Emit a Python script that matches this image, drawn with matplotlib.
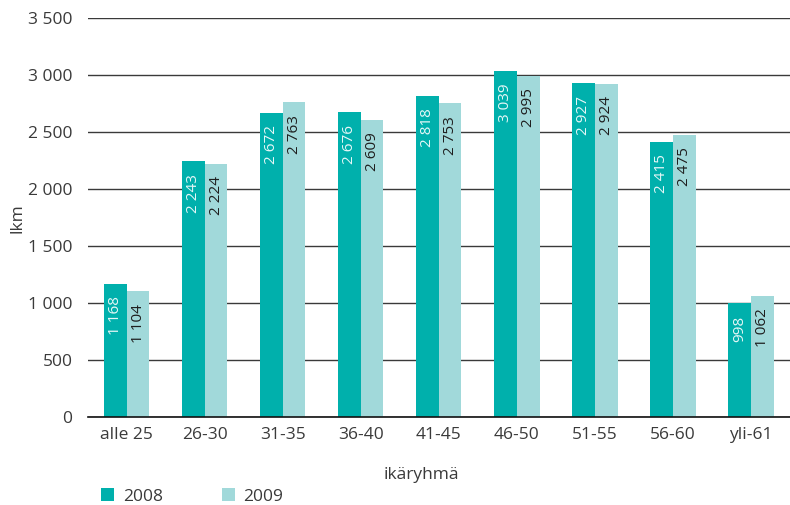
import numpy as np
import matplotlib
matplotlib.use("Agg")
import matplotlib.pyplot as plt
from matplotlib.patches import Patch

plt.rcParams['font.family'] = ['Open Sans', 'DejaVu Sans']

# Data
categories = ['alle 25', '26-30', '31-35', '36-40', '41-45', '46-50', '51-55', '56-60', 'yli-61']
values_2008 = [1168, 2243, 2672, 2676, 2818, 3039, 2927, 2415, 998]
values_2009 = [1104, 2224, 2763, 2609, 2753, 2995, 2924, 2475, 1062]
series_names = ['2008', '2009']
yticks = [0, 500, 1000, 1500, 2000, 2500, 3000, 3500]

COL_2008 = '#00b0ac'
COL_2009 = '#a1d9da'
TEXT = '#3a3a3a'


def fmt(v):
    return f"{v:,}".replace(',', ' ')


fig = plt.figure(figsize=(7.9, 5.05), dpi=100)
ax = fig.add_axes([0.111, 0.174, 0.889, 0.79])

x = np.arange(len(categories))
w = 0.29
bars1 = ax.bar(x - w / 2, values_2008, w, color=COL_2008, zorder=3)
bars2 = ax.bar(x + w / 2, values_2009, w, color=COL_2009, zorder=3)

# value labels inside bars, rotated
for bars, vals, col in [(bars1, values_2008, '#e6f7f7'), (bars2, values_2009, '#1e1e1e')]:
    for b, v in zip(bars, vals):
        ax.text(b.get_x() + b.get_width() / 2, v - 110, fmt(v), rotation=90,
                ha='center', va='top', fontsize=11, color=col, zorder=4)

ax.set_xlim(-0.5, len(categories) - 0.5)
ax.set_ylim(0, 3500)
ax.set_yticks(yticks)
ax.set_yticklabels([fmt(t) for t in yticks])
ax.set_xticks(x)
ax.set_xticklabels(categories)
ax.tick_params(axis='both', length=0, labelsize=12.5, colors=TEXT)
ax.tick_params(axis='x', pad=7)
ax.tick_params(axis='y', pad=11)

ax.yaxis.grid(True, color='#3a3a3a', linewidth=1.0, zorder=0)
ax.set_axisbelow(True)
for s in ['left', 'right', 'top']:
    ax.spines[s].set_visible(False)
ax.spines['bottom'].set_color('#111111')
ax.spines['bottom'].set_linewidth(1.2)
ax.spines['bottom'].set_zorder(5)

ax.set_ylabel('lkm', fontsize=12.5, color=TEXT, labelpad=2)
ax.set_xlabel('ikäryhmä', fontsize=12.5, color=TEXT, labelpad=16)
ax.xaxis.set_label_coords(0.475, -0.125)

handles = [Patch(facecolor=COL_2008, label=series_names[0]),
           Patch(facecolor=COL_2009, label=series_names[1])]
fig.legend(handles=handles, loc='lower left', bbox_to_anchor=(0.108, -0.03), ncol=2,
           frameon=False, fontsize=12.5, handlelength=0.75, handleheight=0.75,
           handletextpad=0.5, columnspacing=3.4, labelcolor=TEXT)

fig.savefig('out.png', dpi=100)
